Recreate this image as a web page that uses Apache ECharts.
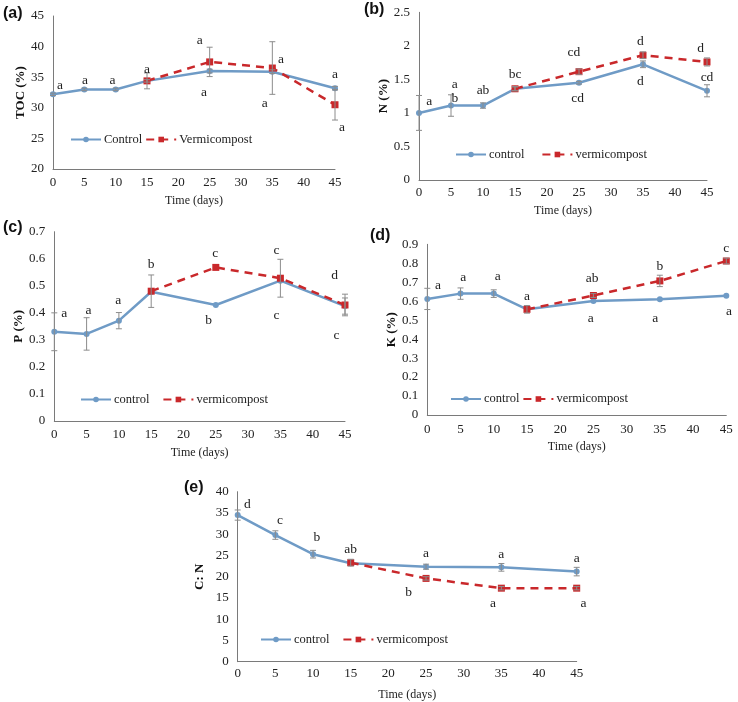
<!DOCTYPE html>
<html>
<head>
<meta charset="utf-8">
<script src="https://cdn.jsdelivr.net/npm/echarts@6/dist/echarts.min.js"></script>
<style>
  html, body { margin: 0; padding: 0; background: #fff; }
  #main { width: 738px; height: 702px; }
</style>
</head>
<body>
<div id="main"></div>
<script>
// sampling days
var days = [0, 5, 10, 15, 25, 35, 45];
var vermiDays = [15, 25, 35, 45];

// (a) TOC
var tocControl = [32.2, 33.0, 33.0, 34.4, 36.0, 35.9, 33.2];
var tocControlErr = [0.2, 0.2, 0.2, 0.2, 0.3, 0.3, 0.3];
var tocVermi = [34.4, 37.5, 36.5, 30.5];
var tocVermiErr = [1.3, 2.4, 4.3, 2.5];
var tocLetters = [[1.1, 33.7, 'a'], [5.1, 34.4, 'a'], [9.5, 34.5, 'a'], [15, 36.3, 'a'], [23.4, 41.0, 'a'],
  [24.1, 32.5, 'a'], [36.4, 37.9, 'a'], [33.8, 30.7, 'a'], [45, 35.5, 'a'], [46.1, 26.8, 'a']];

// (b) N
var nControl = [1.0, 1.11, 1.11, 1.36, 1.45, 1.725, 1.33];
var nControlErr = [0.26, 0.16, 0.04, 0.03, 0.02, 0.05, 0.09];
var nVermi = [1.36, 1.615, 1.86, 1.76];
var nVermiErr = [0.03, 0.04, 0.05, 0.06];
var nLetters = [[1.6, 1.17, 'a'], [5.6, 1.42, 'a'], [5.6, 1.21, 'b'], [10, 1.33, 'ab'], [15, 1.57, 'bc'],
  [24.2, 1.90, 'cd'], [24.8, 1.21, 'cd'], [34.6, 2.06, 'd'], [34.6, 1.47, 'd'], [44, 1.96, 'd'], [45, 1.53, 'cd']];

// (c) P
var pControl = [0.33, 0.322, 0.371, 0.478, 0.429, 0.519, 0.425];
var pControlErr = [0.07, 0.06, 0.03, 0, 0, 0, 0.03];
var pVermi = [0.48, 0.568, 0.528, 0.429];
var pVermiErr = [0.06, 0, 0.07, 0.04];
var pLetters = [[1.55, 0.396, 'a'], [5.3, 0.41, 'a'], [9.9, 0.447, 'a'], [15, 0.58, 'b'], [24.9, 0.62, 'c'],
  [23.9, 0.37, 'b'], [34.4, 0.632, 'c'], [34.4, 0.39, 'c'], [43.4, 0.54, 'd'], [43.7, 0.318, 'c']];

// (d) K
var kControl = [0.612, 0.64, 0.64, 0.557, 0.601, 0.61, 0.629];
var kControlErr = [0.056, 0.03, 0.02, 0, 0, 0, 0];
var kVermi = [0.557, 0.63, 0.707, 0.812];
var kVermiErr = [0.02, 0.01, 0.03, 0.015];
var kLetters = [[1.6, 0.682, 'a'], [5.4, 0.724, 'a'], [10.6, 0.728, 'a'], [15, 0.627, 'a'], [24.8, 0.72, 'ab'],
  [24.6, 0.51, 'a'], [35, 0.782, 'b'], [34.3, 0.51, 'a'], [45, 0.879, 'c'], [45.4, 0.545, 'a']];

// (e) C:N
var cnControl = [34.5, 29.8, 25.3, 23.15, 22.35, 22.2, 21.2];
var cnControlErr = [1.2, 1.0, 0.9, 0, 0.6, 0.9, 1.0];
var cnVermi = [23.3, 19.6, 17.3, 17.3];
var cnVermiErr = [0.8, 0.4, 0.4, 0.4];
var cnLetters = [[1.3, 36.9, 'd'], [5.6, 33.3, 'c'], [10.5, 29.2, 'b'], [15, 26.4, 'ab'], [25, 25.5, 'a'],
  [22.7, 16.3, 'b'], [35, 25.3, 'a'], [33.9, 13.6, 'a'], [45, 24.3, 'a'], [45.9, 13.8, 'a']];

var blue = '#6f9bc6';
var red = '#c9282b';
var serif = '"Liberation Serif", "Times New Roman", serif';

var panels = [
  {tag: '(a)', tx: 3, ty: 6, grid: {left: 53, top: 16, width: 282, height: 153},
   ymin: 20, ymax: 45, step: 5, yname: 'TOC (%)', ygap: 22, xgap: 26, xmargin: 7,
   names: ['Control', 'Vermicompost'], legend: {left: 70, top: 133, itemGap: 3},
   c: tocControl, ce: tocControlErr, v: tocVermi, ve: tocVermiErr, letters: tocLetters},
  {tag: '(b)', tx: 364, ty: 2, grid: {left: 419, top: 12.3, width: 288, height: 167.7},
   ymin: 0, ymax: 2.5, step: 0.5, yname: 'N (%)', ygap: 21, xgap: 25, xmargin: 6,
   names: ['control', 'vermicompost'], legend: {left: 455, top: 148, itemGap: 17},
   c: nControl, ce: nControlErr, v: nVermi, ve: nVermiErr, letters: nLetters},
  {tag: '(c)', tx: 3, ty: 220, grid: {left: 54.3, top: 231.7, width: 290.7, height: 189.3},
   ymin: 0, ymax: 0.7, step: 0.1, yname: 'P (%)', ygap: 25.5, xgap: 26, xmargin: 7.5,
   names: ['control', 'vermicompost'], legend: {left: 80, top: 393, itemGap: 13},
   c: pControl, ce: pControlErr, v: pVermi, ve: pVermiErr, letters: pLetters},
  {tag: '(d)', tx: 370, ty: 228, grid: {left: 427.3, top: 244.3, width: 299, height: 170.7},
   ymin: 0, ymax: 0.9, step: 0.1, yname: 'K (%)', ygap: 24, xgap: 26, xmargin: 8,
   names: ['control', 'vermicompost'], legend: {left: 450, top: 392.5, itemGap: 3},
   c: kControl, ce: kControlErr, v: kVermi, ve: kVermiErr, letters: kLetters},
  {tag: '(e)', tx: 184, ty: 480, grid: {left: 237.7, top: 491.7, width: 339, height: 170},
   ymin: 0, ymax: 40, step: 5, yname: 'C: N', ygap: 32, xgap: 27, xmargin: 5,
   names: ['control', 'vermicompost'], legend: {left: 260, top: 633, itemGap: 13},
   c: cnControl, ce: cnControlErr, v: cnVermi, ve: cnVermiErr, letters: cnLetters}
];

function pairs(xs, ys) {
  return xs.map(function (x, i) { return [x, ys[i]]; });
}
function bars(xs, ys, es) {
  var out = [];
  xs.forEach(function (x, i) {
    if (es[i] > 0) out.push([x, ys[i] - es[i], ys[i] + es[i]]);
  });
  return out;
}

// error bar drawing
function errorBar(params, api) {
  var x = api.value(0);
  var top = api.coord([x, api.value(2)]);
  var bot = api.coord([x, api.value(1)]);
  var w = 3;
  var st = {stroke: '#8c8c8c', lineWidth: 1};
  return {type: 'group', children: [
    {type: 'line', shape: {x1: top[0], y1: top[1], x2: bot[0], y2: bot[1]}, style: st},
    {type: 'line', shape: {x1: top[0] - w, y1: top[1], x2: top[0] + w, y2: top[1]}, style: st},
    {type: 'line', shape: {x1: bot[0] - w, y1: bot[1], x2: bot[0] + w, y2: bot[1]}, style: st}
  ]};
}

// letter labels
function letterText(params, api) {
  var pt = api.coord([api.value(0), api.value(1)]);
  return {type: 'text', x: pt[0], y: pt[1], style: {
    text: params.context.letters[params.dataIndex], textAlign: 'center', textVerticalAlign: 'middle',
    font: '13.5px ' + serif, fill: '#222'}};
}

var option = {
  animation: false,
  backgroundColor: '#fff',
  grid: [], xAxis: [], yAxis: [], legend: [], series: [], graphic: []
};

panels.forEach(function (p, i) {
  option.grid.push(p.grid);
  option.xAxis.push({
    type: 'value', gridIndex: i, min: 0, max: 45, interval: 5,
    name: 'Time (days)', nameLocation: 'middle', nameGap: p.xgap,
    nameTextStyle: {fontFamily: serif, fontSize: 12, color: '#222'},
    axisLine: {lineStyle: {color: '#7a7a7a'}},
    axisTick: {show: false}, splitLine: {show: false},
    axisLabel: {margin: p.xmargin, fontFamily: serif, fontSize: 13, color: '#222'}
  });
  option.yAxis.push({
    type: 'value', gridIndex: i, min: p.ymin, max: p.ymax, interval: p.step,
    name: p.yname, nameLocation: 'middle', nameGap: p.ygap, nameRotate: 90,
    nameTextStyle: {fontFamily: serif, fontSize: 13, fontWeight: 'bold', color: '#111'},
    axisLine: {show: true, lineStyle: {color: '#7a7a7a'}},
    axisTick: {show: false}, splitLine: {show: false},
    axisLabel: {margin: 9, fontFamily: serif, fontSize: 13, color: '#222'}
  });
  option.legend.push({
    left: p.legend.left, top: p.legend.top, itemGap: p.legend.itemGap, padding: 0,
    itemWidth: 30, itemHeight: 7, data: p.names,
    textStyle: {fontFamily: serif, fontSize: 12.5, color: '#222', padding: [0, 0, 0, -2]}
  });
  option.series.push({
    name: p.names[0], type: 'line', xAxisIndex: i, yAxisIndex: i,
    data: pairs(days, p.c), symbol: 'circle', symbolSize: 6,
    itemStyle: {color: blue}, lineStyle: {color: blue, width: 2.5}, z: 3
  });
  option.series.push({
    name: p.names[1], type: 'line', xAxisIndex: i, yAxisIndex: i,
    data: pairs(vermiDays, p.v), symbol: 'rect', symbolSize: 7,
    itemStyle: {color: red}, lineStyle: {color: red, width: 2.5, type: [8, 6]}, z: 4
  });
  option.series.push({
    type: 'custom', xAxisIndex: i, yAxisIndex: i, silent: true, z: 5,
    renderItem: errorBar, data: bars(days, p.c, p.ce).concat(bars(vermiDays, p.v, p.ve))
  });
  var texts = p.letters.map(function (d) { return d[2]; });
  option.series.push({
    type: 'custom', xAxisIndex: i, yAxisIndex: i, silent: true, clip: false, z: 6,
    renderItem: function (params, api) {
      params.context.letters = texts;
      return letterText(params, api);
    },
    data: p.letters.map(function (d) { return [d[0], d[1]]; })
  });
  option.graphic.push({
    type: 'text', left: p.tx, top: p.ty,
    style: {text: p.tag, font: 'bold 16px "Liberation Sans", Arial, sans-serif', fill: '#111'}
  });
});

var myChart = echarts.init(document.getElementById('main'));
myChart.setOption(option);
</script>
</body>
</html>
